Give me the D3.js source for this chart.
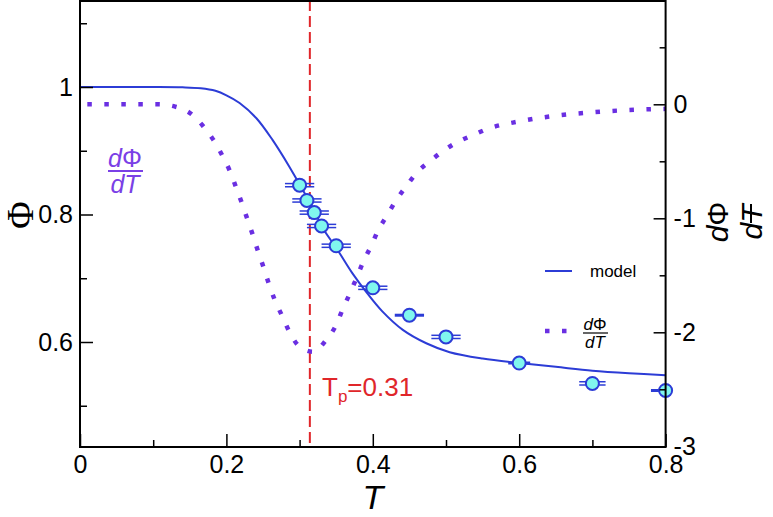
<!DOCTYPE html>
<html><head><meta charset="utf-8">
<script src="https://cdn.jsdelivr.net/npm/d3@7"></script>
<style>
html,body{margin:0;padding:0;background:#fff;}
svg{display:block;font-family:"Liberation Sans",Arial,sans-serif;}
</style></head><body>
<svg id="chart" width="773" height="517"></svg>
<script>
// ---- data ----
const tData   = [0.30, 0.31, 0.32, 0.33, 0.35, 0.40, 0.45, 0.50, 0.60, 0.70, 0.80];
const phiData = [0.846, 0.822, 0.803, 0.782, 0.751, 0.685, 0.642, 0.608, 0.567, 0.535, 0.524];
const tErr    = [0.02, 0.02, 0.02, 0.02, 0.02, 0.02, 0.02, 0.02, 0.015, 0.018, 0.02];
const singleBarT = [0.45, 0.60, 0.80];

const modelT   = [0, 0.05, 0.10, 0.14, 0.165, 0.185, 0.200, 0.218, 0.241, 0.263, 0.286, 0.297, 0.31, 0.32, 0.332, 0.351, 0.372, 0.392, 0.413, 0.441, 0.473, 0.505, 0.55, 0.60, 0.65, 0.70, 0.75, 0.80];
const modelPhi = [1.0, 1.0, 1.0, 0.9995, 0.998, 0.994, 0.987, 0.975, 0.951, 0.917, 0.875, 0.853, 0.827, 0.806, 0.778, 0.746, 0.708, 0.677, 0.648, 0.619, 0.598, 0.584, 0.574, 0.567, 0.561, 0.555, 0.551, 0.548];

const derivT   = [0.01, 0.05, 0.083, 0.107, 0.130, 0.152, 0.168, 0.182, 0.194, 0.204, 0.213, 0.221, 0.228, 0.236, 0.243, 0.251, 0.258, 0.266, 0.276, 0.286, 0.299, 0.318, 0.336, 0.350, 0.359, 0.369, 0.378, 0.387, 0.398, 0.407, 0.419, 0.432, 0.445, 0.460, 0.477, 0.496, 0.516, 0.537, 0.557, 0.60, 0.65, 0.70, 0.75, 0.80];
const derivVal = [0.0, 0.0, 0.0, 0.0, -0.02, -0.085, -0.19, -0.31, -0.445, -0.575, -0.725, -0.865, -0.995, -1.145, -1.285, -1.435, -1.575, -1.715, -1.855, -1.995, -2.12, -2.17, -2.07, -1.935, -1.795, -1.655, -1.52, -1.38, -1.24, -1.11, -0.98, -0.84, -0.725, -0.60, -0.505, -0.41, -0.33, -0.27, -0.215, -0.15, -0.10, -0.07, -0.05, -0.04];

const xTicks = [0, 0.2, 0.4, 0.6, 0.8];
const xMinor = [0.1, 0.3, 0.5, 0.7];
const yLeftTicks = [0.6, 0.8, 1];
const yLeftMinor = [0.5, 0.7, 0.9, 1.1];
const yRightTicks = [0, -1, -2, -3];
const yRightMinor = [0.5, -0.5, -1.5, -2.5];
const tpValue = 0.314;
const tpText = "=0.31";

// ---- layout ----
const L = 80, R = 665.6, T = 0, B = 447;
const svg = d3.select("#chart");
const x = d3.scaleLinear().domain([0, 0.8]).range([L, R]);
const yL = d3.scaleLinear().domain([0.6, 1]).range([342, 87]);
const yR = d3.scaleLinear().domain([-3, 0]).range([446.3, 104.3]);

const blue = "#2c3cd6", purple = "#6a2fe2", red = "#e0262a";

svg.append("defs").append("clipPath").attr("id", "clip")
  .append("rect").attr("x", L).attr("y", T).attr("width", R - L).attr("height", B - T);

// red dashed line
svg.append("line")
  .attr("x1", x(tpValue)).attr("x2", x(tpValue)).attr("y1", T).attr("y2", B)
  .attr("stroke", red).attr("stroke-width", 2).attr("stroke-dasharray", "11,5");

const plot = svg.append("g").attr("clip-path", "url(#clip)");

// derivative dotted curve
const derivPts = derivT.map((t, i) => [t, derivVal[i]]);
plot.append("path")
  .attr("d", d3.line().x(d => x(d[0])).y(d => yR(d[1])).curve(d3.curveMonotoneX)(derivPts))
  .attr("fill", "none").attr("stroke", purple).attr("stroke-width", 4.5)
  .attr("stroke-dasharray", "4.5,12.5");

// model curve
const modelPts = modelT.map((t, i) => [t, modelPhi[i]]);
plot.append("path")
  .attr("d", d3.line().x(d => x(d[0])).y(d => yL(d[1])).curve(d3.curveCatmullRom.alpha(0.5))(modelPts))
  .attr("fill", "none").attr("stroke", blue).attr("stroke-width", 2);

// error bars
const pts = tData.map((t, i) => ({t, p: phiData[i], e: tErr[i]}));
const eb = plot.append("g");
pts.forEach(d => {
  const x1 = x(d.t - d.e), x2 = x(d.t + d.e), yy = yL(d.p);
  if (singleBarT.includes(d.t)) {
    eb.append("line").attr("x1", x1).attr("x2", x2).attr("y1", yy).attr("y2", yy)
      .attr("stroke", blue).attr("stroke-width", 3);
  } else {
    [-1.6, 1.6].forEach(o => {
      eb.append("line").attr("x1", x1).attr("x2", x2).attr("y1", yy + o).attr("y2", yy + o)
        .attr("stroke", blue).attr("stroke-width", 1.5);
    });
  }
});

// points
svg.append("g").selectAll("circle").data(pts).join("circle")
  .attr("cx", d => x(d.t)).attr("cy", d => yL(d.p)).attr("r", 6.5)
  .attr("fill", "#80f7ee").attr("stroke", blue).attr("stroke-width", 2);

// frame
svg.append("rect").attr("x", L).attr("y", T + 1).attr("width", R - L).attr("height", B - T - 1)
  .attr("fill", "none").attr("stroke", "#000").attr("stroke-width", 2);

function styleAxis(g) {
  g.select(".domain").remove();
  g.selectAll(".tick line").attr("stroke", "#000").attr("stroke-width", 1.5);
  g.selectAll(".tick text").attr("fill", "#000").attr("font-size", 25)
    .attr("font-family", '"Liberation Sans", Arial, sans-serif');
}
const fmt = d => String(d);

// x axis
svg.append("g").attr("transform", `translate(0,${B})`)
  .call(d3.axisBottom(x).tickValues(xTicks).tickFormat(fmt).tickSizeInner(-13).tickSizeOuter(0).tickPadding(8))
  .call(styleAxis);
svg.append("g").attr("transform", `translate(0,${B})`)
  .call(d3.axisBottom(x).tickValues(xMinor).tickFormat("").tickSizeInner(-7).tickSizeOuter(0))
  .call(styleAxis);

// left axis
svg.append("g").attr("transform", `translate(${L},0)`)
  .call(d3.axisLeft(yL).tickValues(yLeftTicks).tickFormat(fmt).tickSizeInner(-13).tickSizeOuter(0).tickPadding(7))
  .call(styleAxis);
svg.append("g").attr("transform", `translate(${L},0)`)
  .call(d3.axisLeft(yL).tickValues(yLeftMinor).tickFormat("").tickSizeInner(-7).tickSizeOuter(0))
  .call(styleAxis);

// right axis
svg.append("g").attr("transform", `translate(${R},0)`)
  .call(d3.axisRight(yR).tickValues(yRightTicks).tickFormat(fmt).tickSizeInner(-12).tickSizeOuter(0).tickPadding(8))
  .call(styleAxis);
svg.append("g").attr("transform", `translate(${R},0)`)
  .call(d3.axisRight(yR).tickValues(yRightMinor).tickFormat("").tickSizeInner(-6).tickSizeOuter(0))
  .call(styleAxis);

// axis titles
svg.append("text").attr("x", (L + R) / 2).attr("y", 509).attr("text-anchor", "middle")
  .attr("font-size", 34).attr("font-style", "italic").text("T");

svg.append("text").attr("transform", "translate(20,215) rotate(-90)")
  .attr("text-anchor", "middle").attr("dominant-baseline", "central")
  .attr("font-family", '"Liberation Serif","DejaVu Serif",serif').attr("font-size", 38).text("Φ");

const rl = svg.append("g").attr("transform", "translate(735,222) rotate(-90)")
  .attr("font-size", 30).attr("font-style", "italic");
const rn = rl.append("text").attr("x", 0).attr("y", -7).attr("text-anchor", "middle");
rn.append("tspan").text("d");
rn.append("tspan").attr("font-style", "normal").text("Φ");
rl.append("text").attr("x", 0).attr("y", 27).attr("text-anchor", "middle").text("dT");
rl.append("line").attr("x1", -1).attr("x2", 18).attr("y1", 16).attr("y2", 16)
  .attr("stroke", "#000").attr("stroke-width", 2);

// Tp label
const tpl = svg.append("text").attr("x", 322).attr("y", 396).attr("fill", red).attr("font-size", 26);
tpl.append("tspan").text("T");
tpl.append("tspan").attr("dy", 6).attr("font-size", 17).text("p");
tpl.append("tspan").attr("dy", -6).text(tpText);

// in-plot annotation dΦ/dT
const annColor = "#7a40e6";
const ann = svg.append("g").attr("fill", annColor).attr("font-size", 25).attr("font-style", "italic");
const an = ann.append("text").attr("x", 125).attr("y", 167).attr("text-anchor", "middle");
an.append("tspan").text("d");
an.append("tspan").attr("font-style", "normal").text("Φ");
ann.append("line").attr("x1", 108).attr("x2", 143).attr("y1", 171).attr("y2", 171)
  .attr("stroke", annColor).attr("stroke-width", 2);
ann.append("text").attr("x", 125).attr("y", 193).attr("text-anchor", "middle").text("dT");

// legend
svg.append("line").attr("x1", 545).attr("x2", 572).attr("y1", 271).attr("y2", 271)
  .attr("stroke", blue).attr("stroke-width", 2);
svg.append("text").attr("x", 590).attr("y", 277).attr("font-size", 17).text("model");
svg.append("line").attr("x1", 545).attr("x2", 572).attr("y1", 331).attr("y2", 331)
  .attr("stroke", purple).attr("stroke-width", 4.5).attr("stroke-dasharray", "4.5,12.5");
const lg = svg.append("g").attr("font-size", 17).attr("font-style", "italic");
const ln = lg.append("text").attr("x", 595).attr("y", 330).attr("text-anchor", "middle");
ln.append("tspan").text("d");
ln.append("tspan").attr("font-style", "normal").text("Φ");
lg.append("line").attr("x1", 583).attr("x2", 608).attr("y1", 333).attr("y2", 333)
  .attr("stroke", "#000").attr("stroke-width", 1.2);
lg.append("text").attr("x", 595).attr("y", 348).attr("text-anchor", "middle").text("dT");
</script>
</body></html>
